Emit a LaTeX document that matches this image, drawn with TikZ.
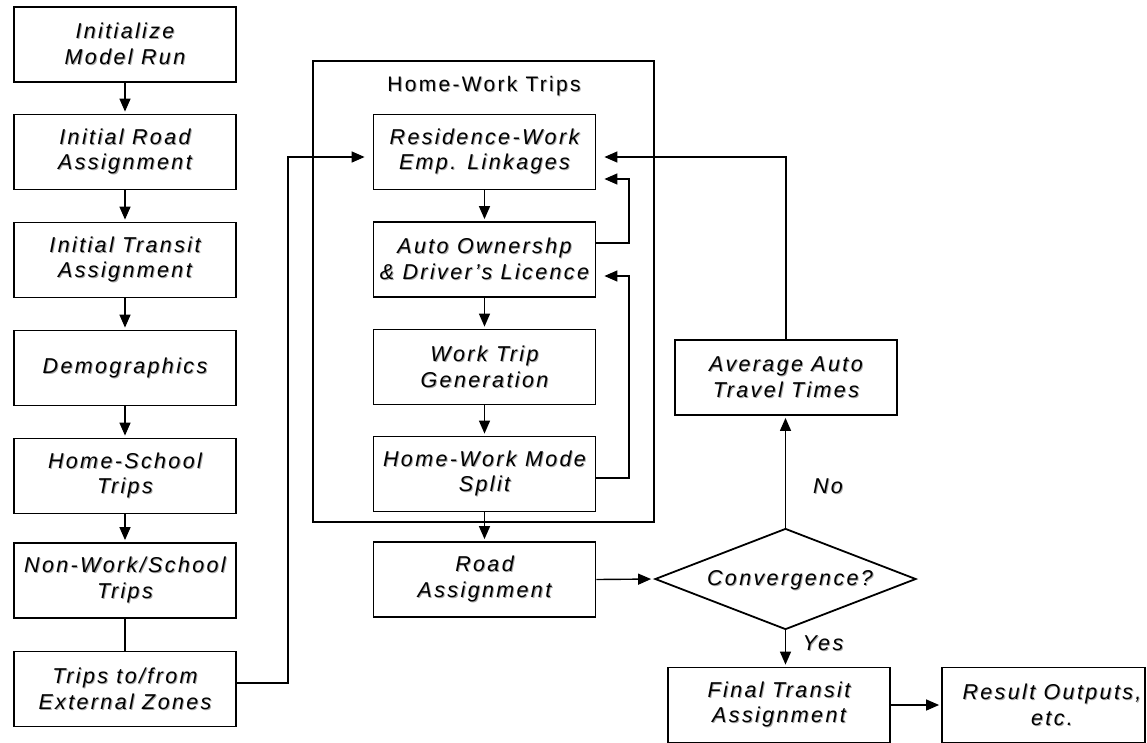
\documentclass[tikz,border=0pt]{standalone}
\usepackage{fontspec}
\setmainfont{Liberation Sans}[LetterSpace=11]
\usetikzlibrary{arrows.meta,shapes.geometric,calc}

% text with a soft grey drop shadow
\newcommand\shd[1]{\leavevmode\rlap{\kern1pt\raisebox{-1pt}{\color{black!35}#1}}#1}

\tikzset{
  box/.style={draw, line width=1.8pt, minimum width=222pt, minimum height=75pt,
    inner sep=0pt, align=center, font=\fontsize{21.5}{25.7}\selectfont\itshape},
  group/.style={draw, line width=1.8pt, minimum width=341pt, minimum height=461pt, inner sep=0pt},
  grouptitle/.style={font=\fontsize{21}{24}\selectfont, inner sep=0pt},
  decision/.style={draw, diamond, line width=1.8pt, minimum width=261pt, minimum height=101pt,
    inner sep=0pt},
  plain/.style={inner sep=0pt, align=center, font=\fontsize{21.5}{25.7}\selectfont\itshape},
  conn/.style={line width=1.4pt},
  arr/.style={conn, -{Triangle[length=13pt,width=11pt]}, shorten >=2pt},
}

\begin{document}
\begin{tikzpicture}[x=1pt,y=-1pt]
\useasboundingbox (0,0) rectangle (1147,742);

% enclosing group for the home-work sub-model
\node[group] (hw) at (483.5,291.5) {};
\node[grouptitle] (hwt) at (484,87) {\shd{Home-Work Trips}};

% left column
\node[box] (init) at (125,44.5) {\shd{Initialize}\\\shd{Model Run}};
\node[box] (ira)  at (125,152)  {\shd{Initial Road}\\\shd{Assignment}};
\node[box] (ita)  at (125,260)  {\shd{Initial Transit}\\\shd{Assignment}};
\node[box] (dem)  at (125,368)  {\shd{Demographics}};
\node[box] (hs)   at (125,476)  {\shd{Home-School}\\\shd{Trips}};
\node[box] (nw)   at (125,580.5){\shd{Non-Work/School}\\\shd{Trips}};
\node[box] (ext)  at (125,689)  {\shd{Trips to/from}\\\shd{External Zones}};

% home-work column
\node[box] (res)  at (484.5,152)  {\shd{Residence-Work}\\\shd{Emp. Linkages}};
\node[box] (auto) at (484.5,259.5){\shd{Auto Ownershp}\\\shd{\& Driver's Licence}};
\node[box] (wtg)  at (484.5,367)  {\shd{Work Trip}\\\shd{Generation}};
\node[box] (hm)   at (484.5,474)  {\shd{Home-Work Mode}\\\shd{Split}};
\node[box] (rd)   at (484.5,579.5){\shd{Road}\\\shd{Assignment}};

% right part
\node[box] (avg)  at (786,377.5) {\shd{Average Auto}\\\shd{Travel Times}};
\node[decision] (conv) at (785.5,579) {};
\node[plain] (convt) at (790,581) {\shd{Convergence?}};
\node[box] (fin)  at (779,705) {\shd{Final Transit}\\\shd{Assignment}};
\node[box, minimum width=203pt] (result) at (1043.5,705) {};
\node[plain] (resultt) at (1052,705) {\shd{Result Outputs,}\\\shd{etc.}};
\node[plain] (no)  at (828,487) {\shd{No}};
\node[plain] (yes) at (823,644) {\shd{Yes}};

% helper coordinates for the routed connectors
\coordinate (xin)   at (288,0);
\coordinate (xloop) at (629,0);
\coordinate (r0) at ($(res.east)+(0,5)$);
\coordinate (l0) at ($(res.west)+(0,5)$);
\coordinate (r1) at ($(res.east)+(0,27)$);
\coordinate (a1) at ($(auto.east)+(0,-16.5)$);
\coordinate (a2) at ($(auto.east)+(0,16.5)$);
\coordinate (h1) at ($(hm.east)+(0,4)$);
\coordinate (e1) at ($(ext.east)+(0,-6)$);

% left column chain
\draw[arr] (init) -- (ira);
\draw[arr] (ira) -- (ita);
\draw[arr] (ita) -- (dem);
\draw[arr] (dem) -- (hs);
\draw[arr] (hs) -- (nw);
\draw[conn] (nw) -- (ext);
\draw[arr, shorten >=8pt] (e1) -- (e1 -| xin) |- (l0);

% home-work chain
\draw[arr] (res) -- (auto);
\draw[arr] (auto) -- (wtg);
\draw[arr] (wtg) -- (hm);
\draw[arr] (hm) -- (rd);

% internal feedback loops
\draw[arr, shorten >=8pt] (a1) -- (a1 -| xloop) |- (r1);
\draw[arr, shorten >=8pt] (h1) -- (h1 -| xloop) |- (a2);

% convergence loop
\draw[arr, shorten >=3pt] (rd.east) -- (conv.west);
\draw[arr] (conv.north) -- (conv.north |- avg.south);
\draw[arr, shorten >=8pt] (avg.north) -- (avg.north |- r0) -- (r0);
\draw[arr] (conv.south) -- (conv.south |- fin.north);
\draw[arr] (fin) -- (result);
\end{tikzpicture}
\end{document}
